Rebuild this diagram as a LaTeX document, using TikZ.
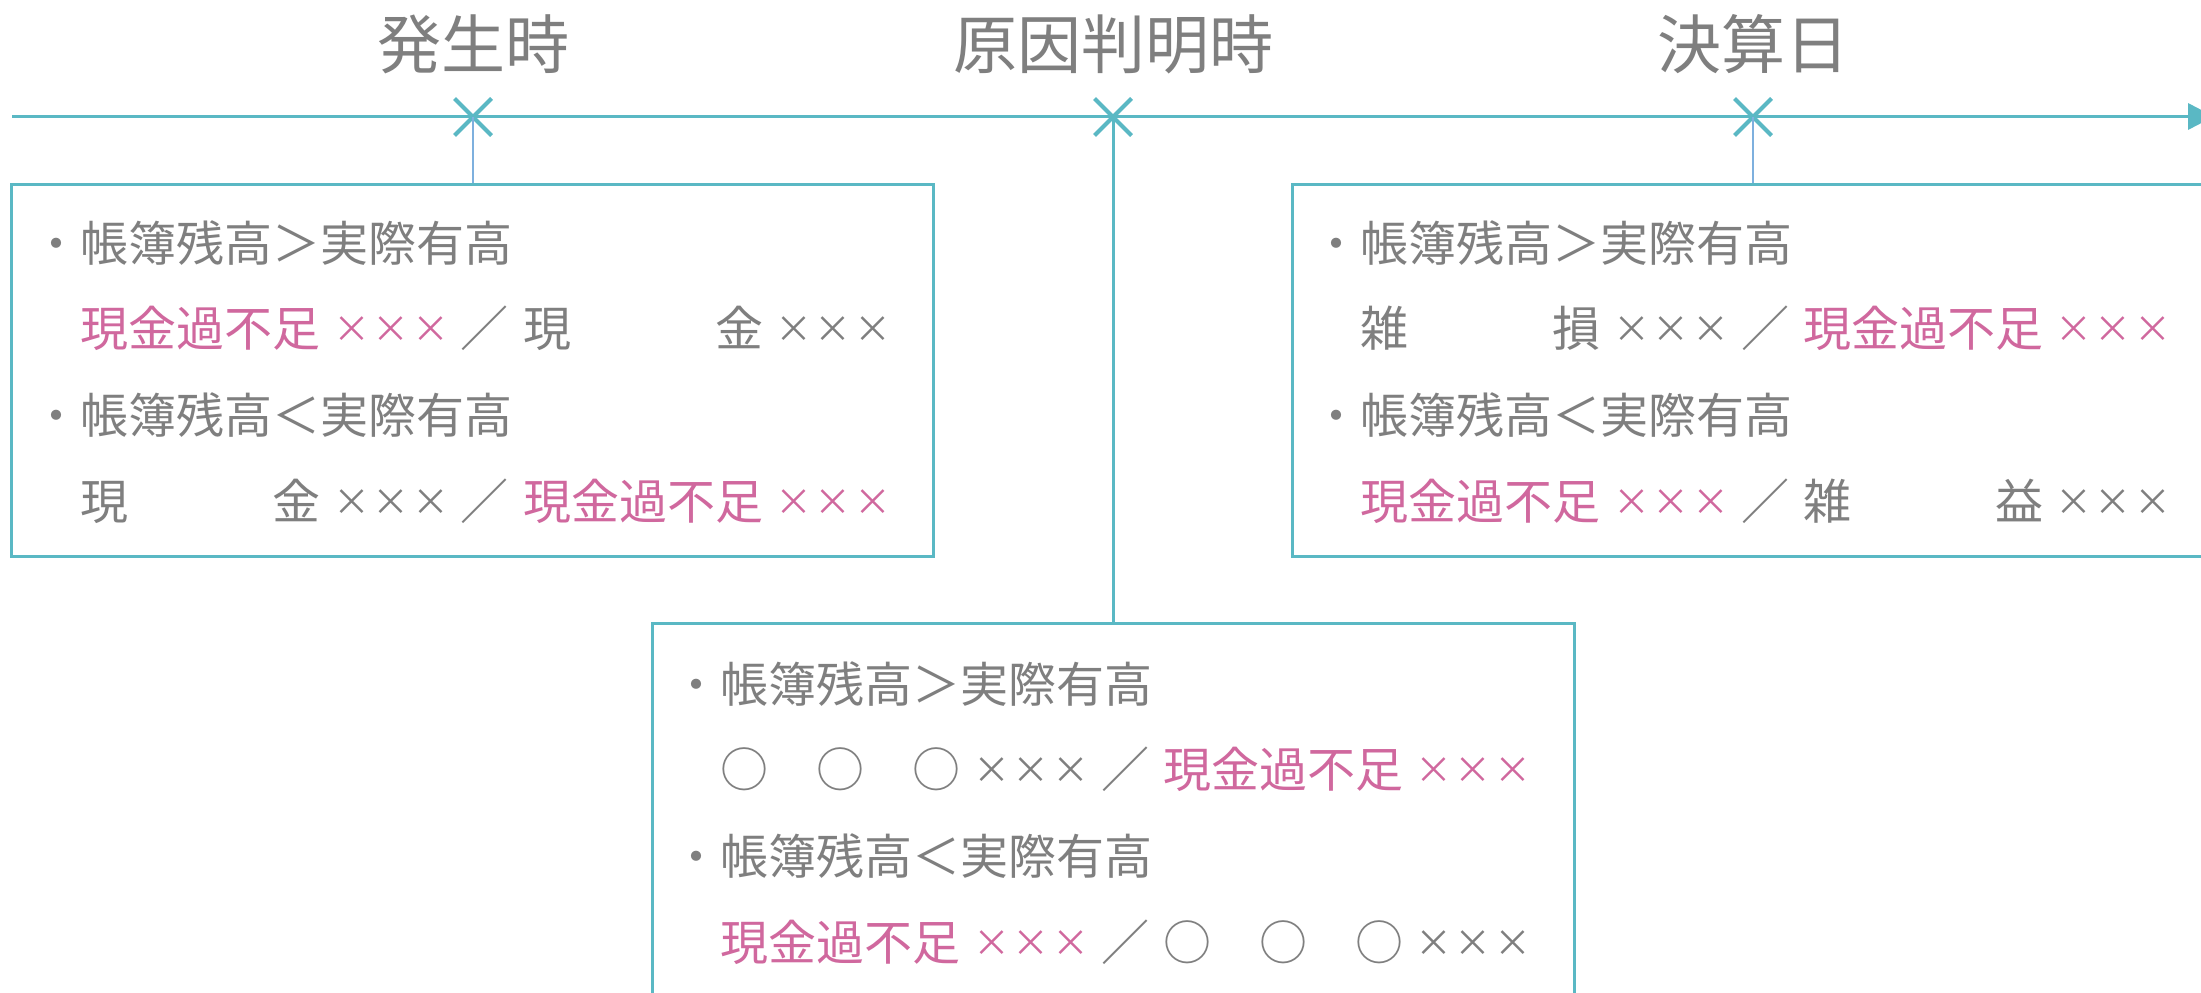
\documentclass[tikz,border=0pt]{standalone}
\usepackage{fontspec}
\setmainfont{Noto Sans CJK JP}
\usetikzlibrary{shapes.misc,arrows.meta}
\definecolor{tealc}{RGB}{90,184,196}
\definecolor{pinkc}{RGB}{208,104,158}
\definecolor{grayc}{RGB}{127,127,127}
\definecolor{thinc}{RGB}{126,176,222}
\newcommand\nm[2]{\textcolor{#1}{\makebox[240pt][s]{#2}}}
\newcommand\onex{\makebox[39.5pt]{\raisebox{4pt}{\fontsize{37pt}{37pt}\selectfont ×}}}
\newcommand\xxx[1]{\textcolor{#1}{\onex\onex\onex}}
\newcommand\jrow[4]{\nm{#1}{#2}\hspace{11.75pt}\xxx{#1}\hspace{10.25pt}\makebox[48pt]{／}\hspace{14.5pt}\nm{#3}{#4}\hspace{10.75pt}\xxx{#3}}
\tikzset{
  txt/.style={anchor=base west, inner sep=0pt, outer sep=0pt, text=grayc, font=\fontsize{48pt}{48pt}\selectfont},
  ttl/.style={anchor=base, inner sep=0pt, text=grayc, font=\fontsize{64pt}{64pt}\selectfont},
  frame/.style={draw=tealc, line width=3pt, minimum width=922pt, minimum height=372pt, inner sep=0pt},
  xmark/.style={cross out, draw=tealc, line width=4pt, minimum size=33pt, inner sep=0pt},
  thinline/.style={draw=thinc, line width=1.4pt},
  thickline/.style={draw=tealc, line width=3pt},
}
\begin{document}
\begin{tikzpicture}[x=1pt,y=-1pt]
\useasboundingbox (0,0) rectangle (2201,993);
\fill[white] (0,0) rectangle (2201,993);
% timeline
\coordinate (t0) at (12,116.5);
\coordinate (t1) at (2214,116.5);
\draw[tealc, line width=3.5pt, -{Triangle[length=26pt,width=26pt]}] (t0) -- (t1);
% marks
\node[xmark] (m1) at (473,117) {};
\node[xmark] (m2) at (1113,117) {};
\node[xmark] (m3) at (1753,117) {};
% titles
\node[ttl] (h1) at (473,68) {発生時};
\node[ttl] (h2) at (1113,68) {原因判明時};
\node[ttl] (h3) at (1753,68) {決算日};
% boxes
\node[frame] (lb) at (472,370) {};
\node[frame] (rb) at (1753,370) {};
\node[frame] (bb) at (1113,809) {};
% connectors
\draw[thinline] (m1.center) -- (m1.center |- lb.north);
\draw[thinline] (m3.center) -- (m3.center |- rb.north);
\draw[thickline] (m2.center) -- (m2.center |- bb.north);
% left box text
\node[txt] (l1) at (32.5,261) {・帳簿残高＞実際有高};
\node[txt] (l2) at (80.5,346) {\jrow{pinkc}{現金過不足}{grayc}{現\hfill 金}};
\node[txt] (l3) at (32.5,433) {・帳簿残高＜実際有高};
\node[txt] (l4) at (80.5,519) {\jrow{grayc}{現\hfill 金}{pinkc}{現金過不足}};
% right box text
\node[txt] (r1) at (1312.5,261) {・帳簿残高＞実際有高};
\node[txt] (r2) at (1360.5,346) {\jrow{grayc}{雑\hfill 損}{pinkc}{現金過不足}};
\node[txt] (r3) at (1312.5,433) {・帳簿残高＜実際有高};
\node[txt] (r4) at (1360.5,519) {\jrow{pinkc}{現金過不足}{grayc}{雑\hfill 益}};
% bottom box text
\node[txt] (b1) at (672.5,702) {・帳簿残高＞実際有高};
\node[txt] (b2) at (720.5,787) {\jrow{grayc}{○\hfill ○\hfill ○}{pinkc}{現金過不足}};
\node[txt] (b3) at (672.5,874) {・帳簿残高＜実際有高};
\node[txt] (b4) at (720.5,960) {\jrow{pinkc}{現金過不足}{grayc}{○\hfill ○\hfill ○}};
\end{tikzpicture}
\end{document}
